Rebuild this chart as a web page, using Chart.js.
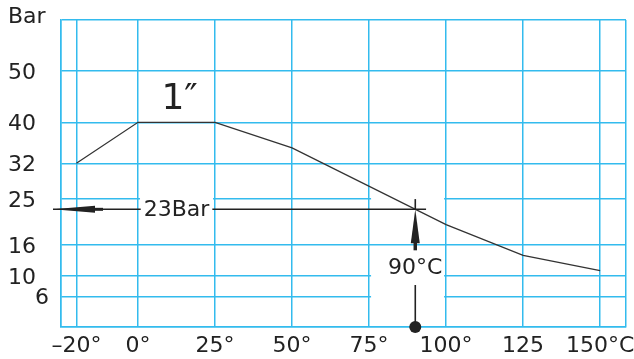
<!DOCTYPE html>
<html>
<head>
<meta charset="utf-8">
<script src="https://cdn.jsdelivr.net/npm/chart.js"></script>
<style>
  body { margin: 0; background: #fff; }
</style>
</head>
<body>
<canvas id="chart" width="634" height="359"></canvas>
<script>
const temps = [-20, 0, 25, 50, 100, 125, 150];
const pressure = [32, 40, 40, 35, 20, 14, 11];

const xTickValues = [-25, -20, 0, 25, 50, 75, 100, 125, 150, 158.4];
const xTickLabels = ['', '–20°', '0°', '25°', '50°', '75°', '100°', '125', '150°C', ''];
const yTickValues = [0, 6, 10, 16, 25, 32, 40, 50, 60];
const yTickLabels = ['', '6', '10', '16', '25', '32', '40', '50', 'Bar'];

const workTemp = 90;
const workPressure = 23;
const sizeLabel = '1″';

const gridBlue = '#33bbee';
const ink = '#222';
const font = '"DejaVu Sans", sans-serif';

const drawing = {
  id: 'drawing',
  beforeDatasetsDraw(chart) {
    const c = chart.ctx, x = chart.scales.x, y = chart.scales.y;
    c.save();
    c.fillStyle = '#fff';
    // gaps in the grid behind the labels
    const box = (x0, x1, v0, v1) => {
      const l = x.getPixelForValue(x0) + 2, r = x.getPixelForValue(x1) - 2;
      const t = y.getPixelForValue(v0), b = y.getPixelForValue(v1);
      c.fillRect(l, t, r - l, b - t);
    };
    box(0, 25, 26, 24);
    box(75, 100, 26, 24);
    box(75, 100, 13.5, 3);
    c.restore();
  },
  afterDatasetsDraw(chart) {
    const c = chart.ctx, x = chart.scales.x, y = chart.scales.y;
    c.save();
    c.strokeStyle = ink;
    c.fillStyle = ink;

    // y labels
    c.font = '22px ' + font;
    c.textBaseline = 'middle';
    c.textAlign = 'left';
    yTickValues.forEach((v, i) => {
      if (!yTickLabels[i]) return;
      let px = 8, py = y.getPixelForValue(v) + 2;
      if (v === 6) px = 35;
      if (v === 60) py = y.getPixelForValue(v) - 3;
      c.fillText(yTickLabels[i], px, py);
    });

    // 23 bar line with arrow to the axis
    const py = y.getPixelForValue(workPressure);
    const tipX = 53;
    const endX = x.getPixelForValue(93.5);
    c.lineWidth = 1.6;
    c.beginPath();
    c.moveTo(tipX, py);
    c.lineTo(endX, py);
    c.stroke();
    c.beginPath();
    c.moveTo(tipX, py);
    c.lineTo(tipX + 42, py - 3.5);
    c.lineTo(tipX + 42, py + 3.5);
    c.closePath();
    c.fill();
    c.lineWidth = 3;
    c.beginPath();
    c.moveTo(tipX + 40, py);
    c.lineTo(tipX + 50, py);
    c.stroke();

    const tx = x.getPixelForValue(12.5);
    c.font = '22px ' + font;
    c.textAlign = 'center';
    const w = c.measureText(workPressure + 'Bar').width;
    c.fillStyle = '#fff';
    c.fillRect(tx - w / 2 - 3, py - 12, w + 6, 24);
    c.fillStyle = ink;
    c.fillText(workPressure + 'Bar', tx, py + 1);

    // 90 °C line with arrow up to the curve
    const px = x.getPixelForValue(workTemp);
    const bottom = chart.chartArea.bottom;
    c.lineWidth = 1.6;
    c.beginPath();
    c.moveTo(px, y.getPixelForValue(25));
    c.lineTo(px, py);
    c.stroke();
    c.beginPath();
    c.moveTo(px, py);
    c.lineTo(px - 4.5, py + 34);
    c.lineTo(px + 4.5, py + 34);
    c.closePath();
    c.fill();
    c.lineWidth = 3.5;
    c.beginPath();
    c.moveTo(px, py + 30);
    c.lineTo(px, py + 41);
    c.stroke();

    c.fillText(workTemp + '°C', px, 268);

    c.lineWidth = 1.6;
    c.beginPath();
    c.moveTo(px, 285);
    c.lineTo(px, bottom);
    c.stroke();
    c.beginPath();
    c.arc(px, bottom, 6, 0, Math.PI * 2);
    c.fill();

    // pipe size label
    c.font = '36px ' + font;
    c.fillText(sizeLabel, x.getPixelForValue(13.5), y.getPixelForValue(44.5));
    c.restore();
  }
};

new Chart(document.getElementById('chart'), {
  type: 'line',
  data: {
    datasets: [{
      data: temps.map((t, i) => ({ x: t, y: pressure[i] })),
      borderColor: '#333',
      borderWidth: 1.3,
      pointRadius: 0,
      tension: 0,
      fill: false
    }]
  },
  options: {
    responsive: false,
    animation: false,
    layout: { padding: { top: 20, right: 8, left: 0, bottom: 0 } },
    plugins: { legend: { display: false }, tooltip: { enabled: false } },
    scales: {
      x: {
        type: 'linear',
        min: -25,
        max: 158.4,
        afterBuildTicks: s => { s.ticks = xTickValues.map(v => ({ value: v })); },
        afterFit: s => { s.height = 32; },
        grid: { color: gridBlue, lineWidth: 1.5, drawTicks: false },
        border: { color: gridBlue, width: 1.5 },
        ticks: {
          autoSkip: false,
          maxRotation: 0,
          padding: 6,
          color: ink,
          font: { family: font, size: 22 },
          callback: v => xTickLabels[xTickValues.indexOf(v)] ?? ''
        }
      },
      y: {
        min: 0,
        max: 60,
        afterBuildTicks: s => { s.ticks = yTickValues.map(v => ({ value: v })); },
        afterFit: s => { s.width = 61; },
        grid: { color: gridBlue, lineWidth: 1.5, drawTicks: false },
        border: { color: gridBlue, width: 1.5 },
        ticks: { display: false }
      }
    }
  },
  plugins: [drawing]
});
</script>
</body>
</html>
